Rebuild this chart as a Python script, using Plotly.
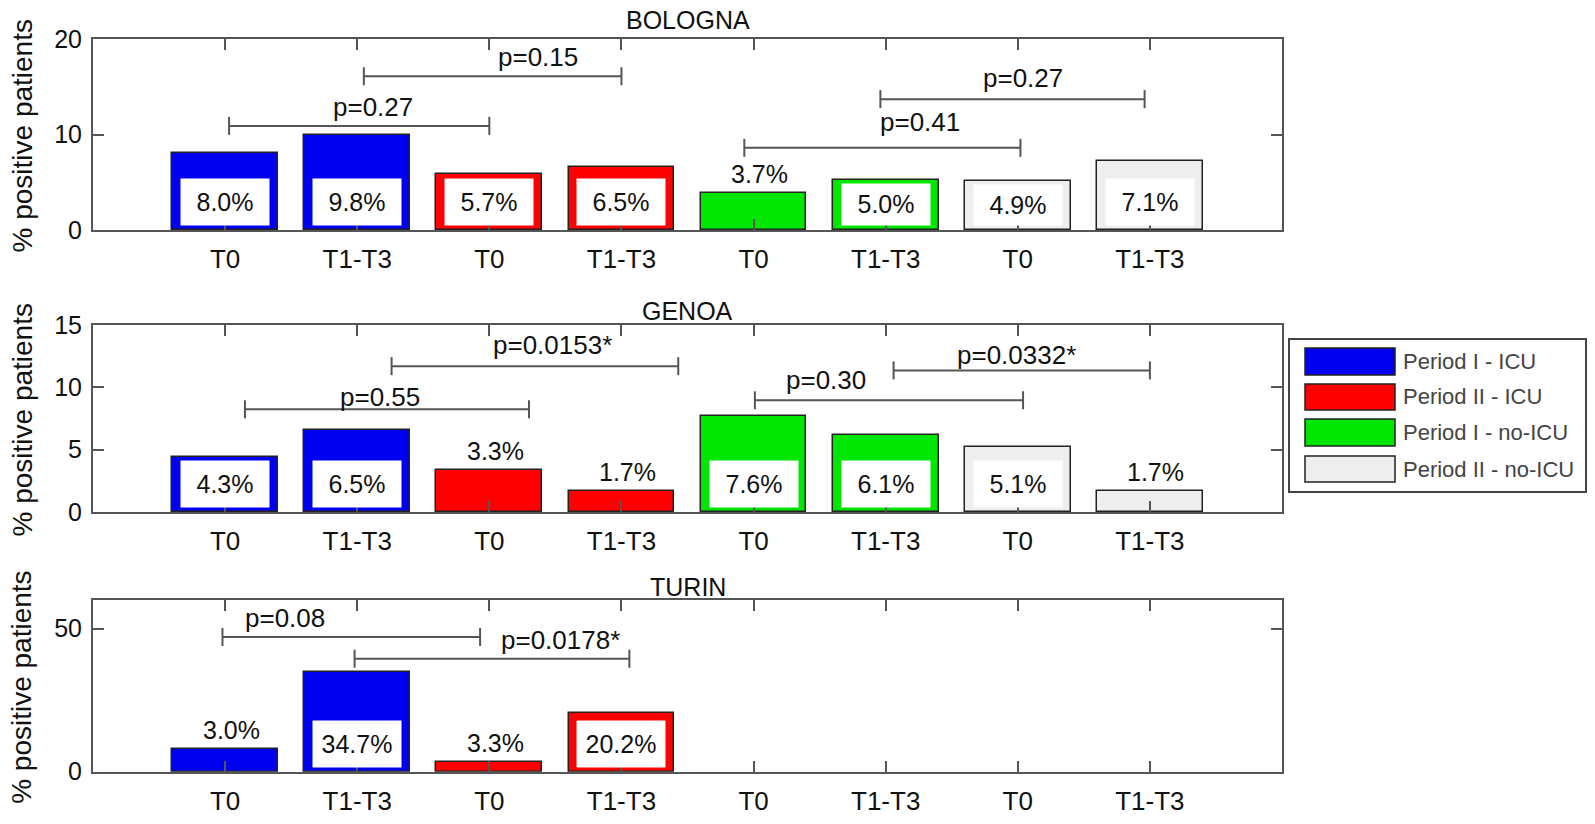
import plotly.graph_objects as go
from plotly.subplots import make_subplots

W, H = 1595, 824

categories = ["T0", "T1-T3", "T0", "T1-T3", "T0", "T1-T3", "T0", "T1-T3"]
groups = ["Period I - ICU", "Period II - ICU", "Period I - no-ICU", "Period II - no-ICU"]

bologna_vals = [8.1, 10.0, 5.9, 6.6, 3.9, 5.2, 5.1, 7.2]
bologna_labels = ["8.0%", "9.8%", "5.7%", "6.5%", "3.7%", "5.0%", "4.9%", "7.1%"]
genoa_vals = [4.4, 6.6, 3.4, 1.7, 7.7, 6.2, 5.2, 1.7]
genoa_labels = ["4.3%", "6.5%", "3.3%", "1.7%", "7.6%", "6.1%", "5.1%", "1.7%"]
turin_vals = [7.8, 34.8, 3.5, 20.4, None, None, None, None]
turin_labels = ["3.0%", "34.7%", "3.3%", "20.2%", "", "", "", ""]

# p-value brackets: (x start, x end, y, text, text x, text y)
bologna_p = [(1.03, 3.0, 10.9, "p=0.27", 2.12, 12.9),
             (2.05, 4.0, 16.1, "p=0.15", 3.37, 18.1),
             (4.93, 7.02, 8.6, "p=0.41", 6.26, 11.3),
             (5.96, 7.96, 13.7, "p=0.27", 7.04, 15.9)]
genoa_p = [(1.15, 3.3, 8.24, "p=0.55", 2.17, 9.2),
           (2.26, 4.43, 11.7, "p=0.0153*", 3.48, 13.4),
           (5.01, 7.04, 8.96, "p=0.30", 5.55, 10.6),
           (6.06, 8.0, 11.36, "p=0.0332*", 6.99, 12.6)]
turin_p = [(0.98, 2.93, 47.1, "p=0.08", 1.45, 53.8),
           (1.98, 4.06, 39.5, "p=0.0178*", 3.54, 45.9)]

cols = ["#0000f0", "#ff0000", "#00e600", "#eeeeee"]
bar_cols = [c for c in cols for _ in range(2)]
FONT = "Liberation Sans, Arial, sans-serif"
AX = "#555555"
TXT = "#111111"

# panel pixel boxes (top, bottom) and y ranges
panels = [
    ("BOLOGNA", bologna_vals, bologna_labels, bologna_p, (39, 230), [0, 20], [0, 10, 20], 20),
    ("GENOA", genoa_vals, genoa_labels, genoa_p, (325, 512), [0, 15], [0, 5, 10, 15], 311),
    ("TURIN", turin_vals, turin_labels, turin_p, (600, 771.7), [0, 60], [0, 50], 587),
]
XL, XR = 93, 1282


def px(x):
    return x / W


def py(y):
    return 1 - y / H


fig = make_subplots(rows=3, cols=1)

for k, (name, vals, labels, pvals, (top, bot), yr, yt, ty) in enumerate(panels):
    r = k + 1
    xs = list(range(1, 9))
    fig.add_trace(go.Bar(x=xs, y=vals, width=0.8, marker_color=bar_cols,
                         marker_line_color="#222222", marker_line_width=1.5,
                         showlegend=False, hoverinfo="skip"), row=r, col=1)
    ppu = (bot - top) / (yr[1] - yr[0])
    xa = "x" if r == 1 else f"x{r}"
    ya = "y" if r == 1 else f"y{r}"
    for x, v, lab in zip(xs, vals, labels):
        if v is None:
            continue
        hpx = v * ppu
        if hpx > 46:
            # white label box inside the bar
            fig.add_annotation(x=x, y=0, xref=xa, yref=ya, text=lab, showarrow=False,
                               xanchor="center", yanchor="bottom", yshift=4,
                               width=88, height=min(46, hpx - 9),
                               bgcolor="white", borderpad=0, valign="middle",
                               font=dict(family=FONT, size=25, color=TXT))
        else:
            fig.add_annotation(x=x, y=v, xref=xa, yref=ya, text=lab, showarrow=False,
                               xanchor="center", yanchor="bottom", yshift=3, xshift=6,
                               font=dict(family=FONT, size=25, color=TXT))
    for x0, x1, y, t, tx, tyy in pvals:
        fig.add_shape(type="line", xref=xa, yref=ya, x0=x0, x1=x1, y0=y, y1=y,
                      line=dict(color="#555555", width=2))
        for xe in (x0, x1):
            fig.add_shape(type="line", xref=xa, yref=ya, x0=xe, x1=xe,
                          ysizemode="pixel", yanchor=y, y0=-9, y1=9,
                          line=dict(color="#555555", width=2))
        fig.add_annotation(x=tx, y=tyy, xref=xa, yref=ya, text=t, showarrow=False,
                           xanchor="center", yanchor="middle",
                           font=dict(family=FONT, size=26, color=TXT))
    fig.update_xaxes(domain=[px(XL), px(XR)], range=[0, 9], tickvals=xs, ticktext=categories,
                     ticks="inside", ticklen=11, tickwidth=1.5, tickcolor=AX,
                     showline=True, linecolor=AX, linewidth=2, mirror="ticks",
                     showgrid=False, zeroline=False, ticklabelstandoff=5, automargin=False,
                     tickfont=dict(family=FONT, size=26, color=TXT), row=r, col=1)
    fig.update_yaxes(domain=[py(bot), py(top)], range=yr, tickvals=yt,
                     ticks="inside", ticklen=11, tickwidth=1.5, tickcolor=AX,
                     showline=True, linecolor=AX, linewidth=2, mirror="ticks",
                     showgrid=False, zeroline=False, ticklabelstandoff=4, automargin=False,
                     tickfont=dict(family=FONT, size=25, color=TXT), row=r, col=1)
    fig.add_annotation(x=px((XL + XR) / 2), y=py(ty), xref="paper", yref="paper", text=name,
                       xanchor="center", yanchor="middle", showarrow=False,
                       font=dict(family=FONT, size=25, color=TXT))
    fig.add_annotation(x=px(22), y=py((top + bot) / 2 + 2), xref="paper", yref="paper",
                       text="% positive patients", textangle=-90, showarrow=False,
                       xanchor="center", yanchor="middle",
                       font=dict(family=FONT, size=28, color=TXT))

# legend drawn by hand to get the wide MATLAB-style swatches
fig.add_shape(type="rect", xref="paper", yref="paper", x0=px(1289), x1=px(1586),
              y0=py(492), y1=py(339), line=dict(color="#444444", width=2), fillcolor="white")
rows_y = [(348, 375), (384, 410), (419, 446), (456, 482)]
for g, c, (y0, y1) in zip(groups, cols, rows_y):
    fig.add_shape(type="rect", xref="paper", yref="paper", x0=px(1305), x1=px(1395),
                  y0=py(y1), y1=py(y0), fillcolor=c, line=dict(color="#222222", width=1.5))
    fig.add_annotation(x=px(1401), y=py((y0 + y1) / 2), xref="paper", yref="paper", text=g,
                       xanchor="left", yanchor="middle", showarrow=False,
                       font=dict(family=FONT, size=22, color="#444444"))

fig.update_layout(width=W, height=H, margin=dict(l=0, r=0, t=0, b=0),
                  plot_bgcolor="white", paper_bgcolor="white", bargap=0, showlegend=False)

# drop the default page margin so the 1595x824 figure fits the window exactly
fig.write_html("out.html", config={"displayModeBar": False},
               post_script="document.body.style.margin='0';"
                           "document.documentElement.style.overflow='hidden';")
